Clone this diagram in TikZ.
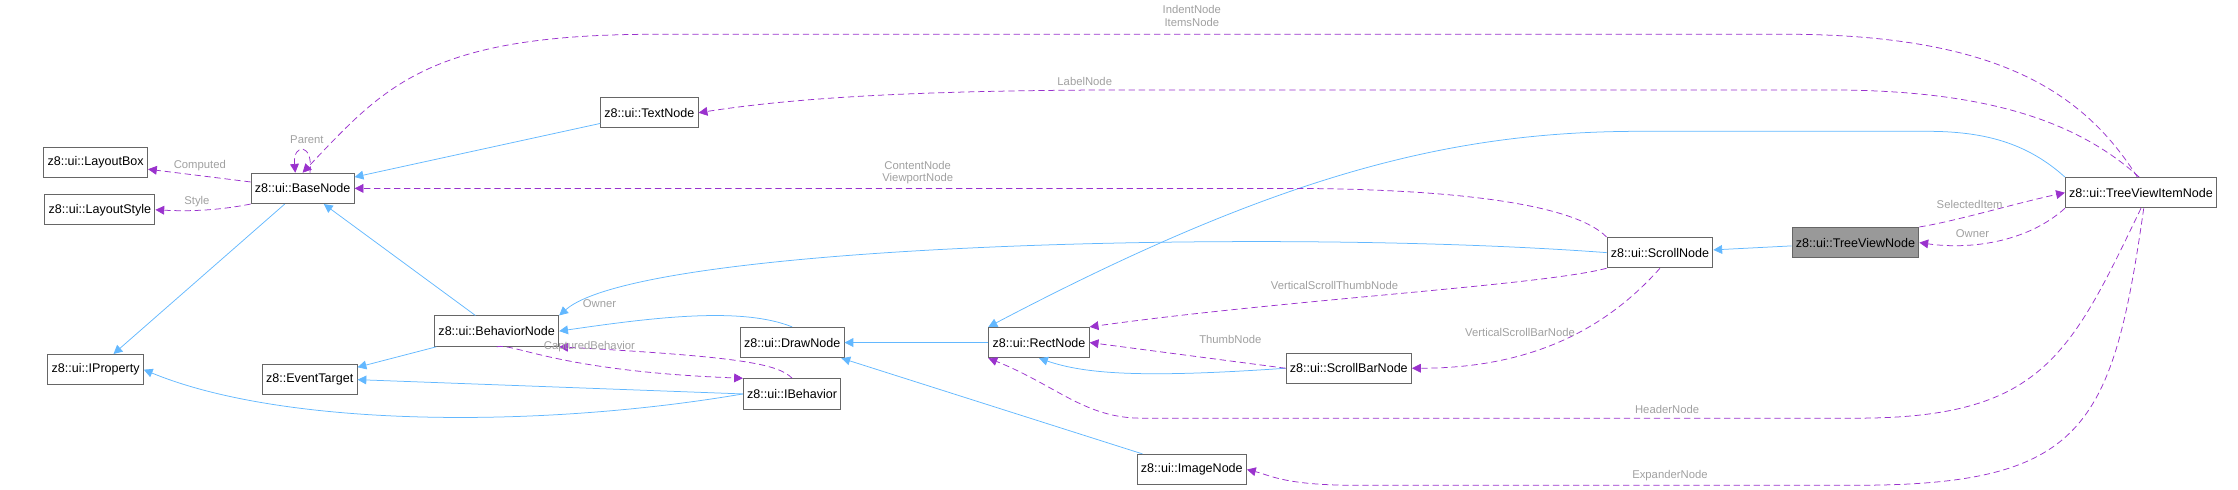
\documentclass[tikz,border=0pt]{standalone}
\usepackage{fontspec}
\setmainfont{Liberation Sans}
\usetikzlibrary{arrows.meta}
\definecolor{inhblue}{RGB}{99,184,255}
\definecolor{usepurple}{RGB}{154,50,205}
\definecolor{lblgray}{RGB}{160,160,160}
\tikzset{
	cls/.style = {draw=black!60, thick, fill=white, inner sep=3pt, minimum height=0.85cm, font=\fontsize{10}{12}\selectfont},
	inh/.style = {-{Triangle[length=7pt,width=7pt]}, inhblue, semithick},
	dep/.style = {-{Triangle[length=7pt,width=7pt]}, usepurple, semithick, dash pattern=on 5pt off 3pt},
	lbl/.style = {text=lblgray, font=\fontsize{9}{10}\selectfont, inner sep=0pt, align=center}
}
\begin{document}
\begin{tikzpicture}[x=0.04cm, y=-0.04cm]
	\useasboundingbox (0, 0) rectangle (1568, 343);
	
	% classes
	\node [cls] (box) at (67, 114) {z8::ui::LayoutBox};
	\node [cls] (style) at (70, 147) {z8::ui::LayoutStyle};
	\node [cls] (base) at (212, 132) {z8::ui::BaseNode};
	\node [cls] (text) at (455, 79) {z8::ui::TextNode};
	\node [cls] (prop) at (67, 259) {z8::ui::IProperty};
	\node [cls] (behnode) at (348, 232) {z8::ui::BehaviorNode};
	\node [cls] (event) at (217, 266) {z8::EventTarget};
	\node [cls] (draw) at (555, 240) {z8::ui::DrawNode};
	\node [cls] (ibeh) at (555, 276) {z8::ui::IBehavior};
	\node [cls] (rect) at (728, 240) {z8::ui::RectNode};
	\node [cls] (image) at (835, 329) {z8::ui::ImageNode};
	\node [cls] (bar) at (945, 258) {z8::ui::ScrollBarNode};
	\node [cls] (scroll) at (1163, 177) {z8::ui::ScrollNode};
	\node [cls, fill=black!40] (tree) at (1300, 170) {z8::ui::TreeViewNode};
	\node [cls] (item) at (1500, 135) {z8::ui::TreeViewItemNode};
	
	% inheritance
	\draw [inh] (text) -- (base);
	\draw [inh] (behnode) -- (base);
	\draw [inh] (base) -- (prop);
	\draw [inh] (behnode) -- (event);
	\draw [inh] (draw.north) .. controls (520, 215) and (460, 222) .. (behnode.east);
	\draw [inh] (ibeh.west) -- (event.east);
	\draw [inh] (ibeh.west) .. controls (380, 300) and (200, 300) .. (prop.east);
	\draw [inh] (rect) -- (draw);
	\draw [inh] (image) -- (draw);
	\draw [inh] (scroll.west) .. controls (900, 160) and (450, 170) .. (behnode.north east);
	\draw [inh] (bar.west) .. controls (800, 265) and (760, 262) .. (rect.south);
	\draw [inh] (tree) -- (scroll);
	\draw [inh] (item.north west) .. controls (1420, 100) and (1390, 92) .. (1350, 92) -- (1150, 92) .. controls (1020, 92) and (900, 120) .. (rect.north west);
	
	% usage
	\draw [dep] (base) -- (box);
	\draw [dep] (base.south west) .. controls (150, 148) and (130, 148) .. (style.east);
	\draw [dep] (base.65) .. controls (220, 100) and (205, 100) .. (base.115);
	\draw [dep] (item.103) .. controls (1460, 65) and (1400, 24) .. (1250, 24) -- (460, 24) .. controls (300, 24) and (270, 60) .. (base.north);
	\draw [dep] (item.97) .. controls (1450, 80) and (1380, 63) .. (1280, 63) -- (800, 63) .. controls (650, 63) and (560, 68) .. (text.east);
	\draw [dep] (scroll.north west) .. controls (1100, 140) and (1000, 132) .. (900, 132) -- (base.east);
	\draw [dep] (behnode.south) .. controls (360, 240) and (390, 260) .. (ibeh.north west);
	\draw [dep] (ibeh.north) .. controls (545, 255) and (520, 250) .. (behnode.south east);
	\draw [dep] (scroll.south west) .. controls (1080, 200) and (900, 210) .. (rect.north east);
	\draw [dep] (scroll.south) .. controls (1130, 225) and (1080, 258) .. (bar.east);
	\draw [dep] (bar.west) -- (rect.east);
	\draw [dep] (item.south) .. controls (1450, 250) and (1430, 293) .. (1300, 293) -- (800, 293) .. controls (760, 293) and (740, 270) .. (rect.south west);
	\draw [dep] (item.-80) .. controls (1480, 300) and (1460, 340) .. (1300, 340) -- (950, 340) .. controls (900, 340) and (890, 333) .. (image.east);
	\draw [dep] (tree.north east) .. controls (1370, 155) and (1410, 143) .. (item.west);
	\draw [dep] (item.south west) .. controls (1420, 170) and (1380, 175) .. (tree.east);
	
	% labels
	\node [lbl] (lindent) at (835, 11) {IndentNode\\ItemsNode};
	\node [lbl] (llabel) at (760, 57) {LabelNode};
	\node [lbl] (lcontent) at (643, 121) {ContentNode\\ViewportNode};
	\node [lbl] (lcomputed) at (140, 116) {Computed};
	\node [lbl] (lstyle) at (138, 141) {Style};
	\node [lbl] (lparent) at (215, 98) {Parent};
	\node [lbl] (lowner) at (420, 213) {Owner};
	\node [lbl] (lcaptured) at (413, 243) {CapturedBehavior};
	\node [lbl] (lthumbv) at (935, 200) {VerticalScrollThumbNode};
	\node [lbl] (lbarv) at (1065, 233) {VerticalScrollBarNode};
	\node [lbl] (lthumb) at (862, 238) {ThumbNode};
	\node [lbl] (lheader) at (1168, 287) {HeaderNode};
	\node [lbl] (lexpander) at (1170, 333) {ExpanderNode};
	\node [lbl] (lselected) at (1380, 143) {SelectedItem};
	\node [lbl] (lowner2) at (1382, 164) {Owner};
\end{tikzpicture}
\end{document}
